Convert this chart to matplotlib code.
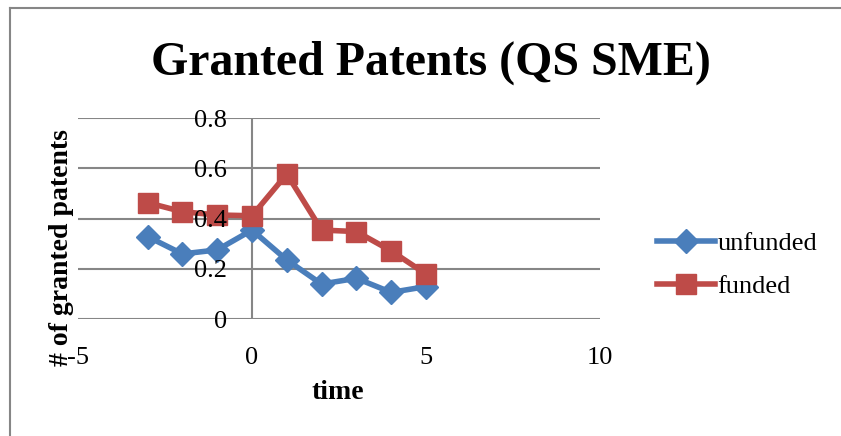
import matplotlib
matplotlib.use('Agg')
import matplotlib.pyplot as plt
from matplotlib.lines import Line2D

# data
time = [-3, -2, -1, 0, 1, 2, 3, 4, 5]
unfunded = [0.328, 0.259, 0.275, 0.354, 0.235, 0.139, 0.162, 0.106, 0.129]
funded = [0.463, 0.427, 0.414, 0.411, 0.577, 0.354, 0.348, 0.271, 0.179]
x_ticks = [-5, 0, 5, 10]
y_ticks = [0, 0.2, 0.4, 0.6, 0.8]

blue = '#4A7EBB'
red = '#BE4B48'
grey = '#868686'

plt.rcParams['font.family'] = ['Liberation Serif', 'DejaVu Serif']
plt.rcParams['axes.unicode_minus'] = False

W, H = 841, 436
fig = plt.figure(figsize=(W / 100, H / 100), dpi=100)

# outer chart border (left and top only are visible)
fig.add_artist(Line2D([10 / W, 10 / W], [0, 1 - 8 / H], color=grey, lw=1.5))
fig.add_artist(Line2D([10 / W, 1], [1 - 8 / H, 1 - 8 / H], color=grey, lw=1.5))

ax = fig.add_axes([78 / W, 1 - 319 / H, (600 - 78) / W, (319 - 118) / H])

# horizontal gridlines drawn below the series
for yv in y_ticks:
    ax.axhline(yv, color=grey, lw=1.5, zorder=1)
ax.axvline(0, color=grey, lw=1.5, zorder=1)

ax.plot(time, unfunded, color=blue, lw=4, marker='D', markersize=12.5,
        label='unfunded', zorder=3)
ax.plot(time, funded, color=red, lw=4, marker='s', markersize=14.5,
        label='funded', zorder=3)

ax.set_xlim(-5, 10)
ax.set_ylim(0, 0.8)
ax.set_xticks(x_ticks)
ax.set_yticks(y_ticks)
ax.set_yticklabels(['0', '0.2', '0.4', '0.6', '0.8'])

for s in ax.spines.values():
    s.set_visible(False)

# tick labels sit on top of the lines, as in the reference
ax.yaxis.set_zorder(5)
ax.tick_params(axis='both', length=0, labelsize=19)
ax.tick_params(axis='y', pad=-149 * 0.72 + 0)
ax.tick_params(axis='x', pad=20)

fig.text(431 / W, 1 - 63 / H, 'Granted Patents (QS SME)', fontsize=34.5,
         fontweight='bold', ha='center', va='center')
fig.text(338 / W, 1 - 392 / H, 'time', fontsize=20, fontweight='bold',
         ha='center', va='center')
fig.text(62 / W, 1 - 248 / H, '# of granted patents', fontsize=20,
         fontweight='bold', ha='center', va='center', rotation=90)

ax.legend(loc='center left', bbox_to_anchor=(646 / W, 1 - 265 / H),
          bbox_transform=fig.transFigure, frameon=False, fontsize=19,
          handlelength=2.2, handletextpad=0.1, labelspacing=0.75,
          borderaxespad=0)

fig.savefig('out.png', dpi=100)
